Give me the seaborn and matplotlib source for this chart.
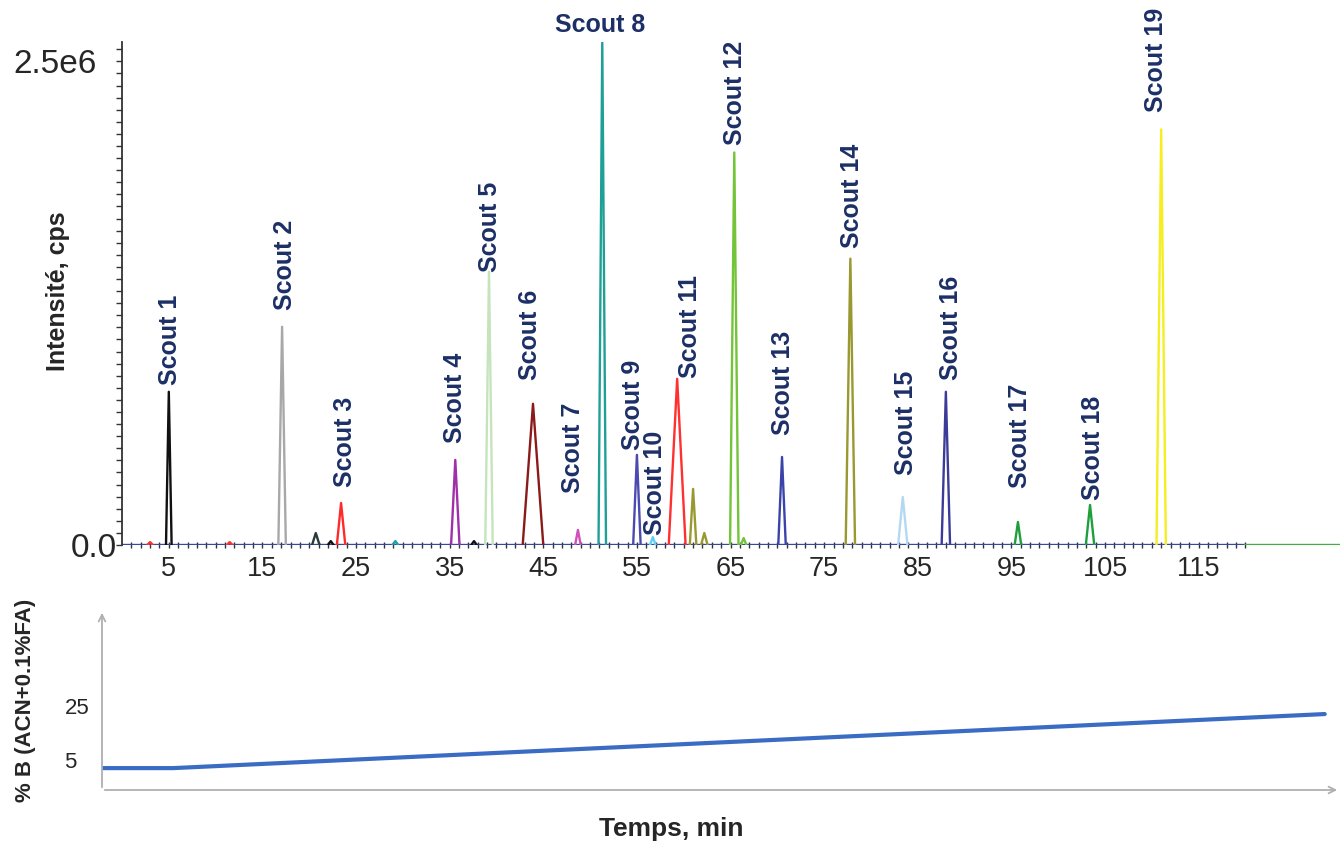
import numpy as np
import pandas as pd
import seaborn as sns
import matplotlib.pyplot as plt
import matplotlib.transforms as mtransforms
from matplotlib.ticker import MultipleLocator, FixedLocator

# peaks of the chromatogram (apex time in min, apex intensity in cps, half base width in min)
peak_names = ["Scout 1", "Scout 2", "Scout 3", "Scout 4", "Scout 5", "Scout 6", "Scout 7",
              "Scout 8", "Scout 9", "Scout 10", "Scout 11", "Scout 12", "Scout 13", "Scout 14",
              "Scout 15", "Scout 16", "Scout 17", "Scout 18", "Scout 19"]
peak_time = [5.0, 17.1, 23.4, 35.6, 39.2, 43.9, 48.7, 51.3, 55.0, 56.7, 59.3, 65.4, 70.5,
             77.8, 83.4, 88.0, 95.7, 103.4, 111.0]
peak_height = [0.792e6, 1.128e6, 0.217e6, 0.44e6, 1.413e6, 0.73e6, 0.078e6, 2.60e6, 0.466e6,
               0.041e6, 0.859e6, 2.029e6, 0.455e6, 1.48e6, 0.248e6, 0.792e6, 0.119e6,
               0.207e6, 2.148e6]
peak_width = [0.3, 0.4, 0.45, 0.45, 0.4, 1.1, 0.3, 0.4, 0.4, 0.3, 0.9, 0.45, 0.4, 0.5,
              0.5, 0.45, 0.35, 0.45, 0.5]
peak_colors = ["#111111", "#a8a8a8", "#ff2a2a", "#a030a8", "#c6e4bc", "#8b1a1a", "#d050b8",
               "#1fa096", "#4a4ab0", "#5fd0f0", "#ff3030", "#74c43a", "#3a44a8", "#9a9830",
               "#b4d8f2", "#3c3c98", "#1f9e3c", "#1f9e3c", "#f4ee22"]

# small unlabeled peaks
minor_time = [3.0, 11.5, 20.7, 22.3, 29.2, 37.6, 61.0, 62.2, 66.4]
minor_height = [0.015e6, 0.015e6, 0.062e6, 0.02e6, 0.02e6, 0.02e6, 0.29e6, 0.062e6, 0.036e6]
minor_width = [0.3, 0.3, 0.4, 0.3, 0.3, 0.3, 0.35, 0.35, 0.3]
minor_colors = ["#ff3030", "#ff3030", "#2a3a3a", "#111111", "#1fa0a0", "#111111", "#9a9830",
                "#9a9830", "#74c43a"]

# gradient profile
grad_time = [0, 7, 120]
grad_b = [5, 5, 25]

# layout of the peak labels
label_t = [5.1, 17.4, 23.8, 35.6, 39.3, 43.6, 48.2, 51.1, 54.6, 56.9, 60.7, 65.5, 70.6,
           78.0, 83.7, 88.5, 95.9, 103.7, 110.4]
label_y = [0.828e6, 1.216e6, 0.30e6, 0.528e6, 1.413e6, 0.854e6, 0.269e6, 2.69e6, 0.492e6,
           0.052e6, 0.864e6, 2.07e6, 0.569e6, 1.537e6, 0.362e6, 0.854e6, 0.295e6, 0.233e6,
           2.236e6]

rows = []
palette = {}
rows += [("baseline", 0, 0.0), ("baseline", 120, 0.0)]
palette["baseline"] = "#3848a0"
rows += [("tail", 120, 0.0), ("tail", 130.1, 0.0)]
palette["tail"] = "#40b040"
for i, (t, h, w) in enumerate(zip(minor_time, minor_height, minor_width)):
    key = f"minor {i}"
    rows += [(key, t - w, 0.0), (key, t, h), (key, t + w, 0.0)]
    palette[key] = minor_colors[i]
for name, t, h, w, c in zip(peak_names, peak_time, peak_height, peak_width, peak_colors):
    rows += [(name, t - w, 0.0), (name, t, h), (name, t + w, 0.0)]
    palette[name] = c
df = pd.DataFrame(rows, columns=["trace", "time", "intensity"])
grad = pd.DataFrame({"time": grad_time, "B": grad_b})

sns.set_theme(style="white")
plt.rcParams["font.family"] = ["Liberation Sans", "DejaVu Sans"]

fig = plt.figure(figsize=(13.41, 8.41), dpi=100)
ax = fig.add_axes([122 / 1341, 296 / 841, 1218 / 1341, 503 / 841])
sns.lineplot(data=df, x="time", y="intensity", hue="trace", palette=palette,
             hue_order=list(palette.keys()), estimator=None, sort=False,
             legend=False, linewidth=1.7, ax=ax)
ax.set_xlim(0, 130.1)
ax.set_ylim(0, 2.60e6)
for s in ["top", "right", "bottom"]:
    ax.spines[s].set_visible(False)
ax.spines["left"].set_color("#333333")
ax.spines["left"].set_linewidth(1.3)

ax.xaxis.set_major_locator(FixedLocator(np.arange(5, 120, 10)))
ax.set_xticklabels([str(v) for v in np.arange(5, 120, 10)], fontsize=19.5)
ax.xaxis.set_minor_locator(FixedLocator(np.arange(1, 121, 1)))
ax.tick_params(axis="x", which="both", direction="inout", length=4, width=1,
               color="#333333", bottom=True, pad=6)

ax.yaxis.set_major_locator(FixedLocator([0, 2.5e6]))
ax.set_yticklabels(["0.0", "2.5e6"], fontsize=24)
ax.yaxis.set_minor_locator(MultipleLocator(62500))
ax.tick_params(axis="y", which="both", direction="out", length=4, width=1,
               color="#333333", left=True, pad=0)
top_shift = mtransforms.ScaledTranslation(-20 / 100, 0, fig.dpi_scale_trans)
ylabs = ax.get_yticklabels()
ylabs[1].set_transform(ylabs[1].get_transform() + top_shift)
ax.set_xlabel("")
ax.set_ylabel("Intensité, cps", fontsize=18, fontweight="bold")
ax.yaxis.set_label_coords(-0.043, 0.505)

for name, t, y in zip(peak_names, label_t, label_y):
    if name == "Scout 8":
        ax.text(t, y, name, ha="center", va="center", fontsize=18,
                fontweight="bold", color="#1c2f66", clip_on=False)
    else:
        ax.text(t, y, name, ha="center", va="bottom", rotation=90, fontsize=18,
                fontweight="bold", color="#1c2f66", clip_on=False)

# gradient panel
ax2 = fig.add_axes([102 / 1341, 51 / 841, 1238 / 1341, 180 / 841])
sns.lineplot(data=grad, x="time", y="B", color="#3a6cc4", linewidth=3, ax=ax2)
ax2.set_xlim(0, 121.5)
ax2.set_ylim(-3.1, 63.5)
for s in ax2.spines.values():
    s.set_visible(False)
ax2.annotate("", xy=(0, 1.0), xytext=(0, 0), xycoords="axes fraction",
             arrowprops=dict(arrowstyle="->", color="#b0b0b0", lw=1.3))
ax2.annotate("", xy=(1.0, 0), xytext=(0, 0), xycoords="axes fraction",
             arrowprops=dict(arrowstyle="->", color="#b0b0b0", lw=1.3))
ax2.set_xticks([])
ax2.set_yticks([5, 25])
ax2.set_yticklabels(["5", "25"], fontsize=16)
ax2.tick_params(axis="y", length=0, pad=27)
shift = mtransforms.ScaledTranslation(0, 8 / 100, fig.dpi_scale_trans)
for lab in ax2.get_yticklabels():
    lab.set_horizontalalignment("left")
    lab.set_transform(lab.get_transform() + shift)
ax2.set_ylabel("% B (ACN+0.1%FA)", fontsize=16, fontweight="bold")
ax2.yaxis.set_label_coords(-0.053, 0.5)
ax2.set_xlabel("Temps, min", fontsize=19, fontweight="bold")
ax2.xaxis.set_label_coords(0.46, -0.15)

fig.savefig("out.png", dpi=100)
